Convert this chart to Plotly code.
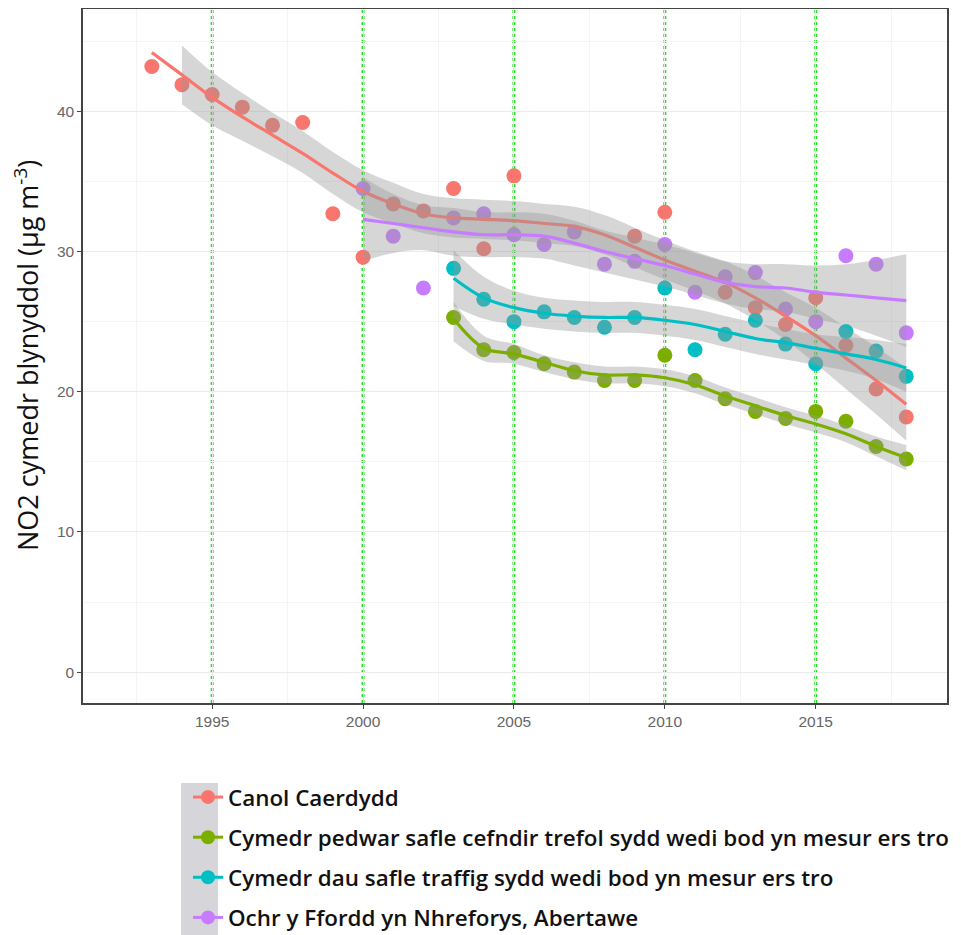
import plotly.graph_objects as go

# ---------------- data ----------------
series_names = [
    "Canol Caerdydd",
    "Cymedr pedwar safle cefndir trefol sydd wedi bod yn mesur ers tro",
    "Cymedr dau safle traffig sydd wedi bod yn mesur ers tro",
    "Ochr y Ffordd yn Nhreforys, Abertawe",
]
series_colors = ["#F8766D", "#7CAE00", "#00BFC4", "#C77CFF"]

# observed annual means
red_years = [1993, 1994, 1995, 1996, 1997, 1998, 1999, 2000, 2001, 2002, 2003, 2004, 2005,
             2009, 2010, 2012, 2013, 2014, 2015, 2016, 2017, 2018]
red_vals = [43.2, 41.9, 41.2, 40.3, 39.0, 39.2, 32.7, 29.6, 33.4, 32.9, 34.5, 30.2, 35.4,
            31.1, 32.8, 27.1, 26.0, 24.8, 26.7, 23.3, 20.2, 18.2]

green_years = list(range(2003, 2019))
green_vals = [25.3, 23.0, 22.8, 22.0, 21.4, 20.8, 20.8, 22.6, 20.8, 19.5, 18.6, 18.1, 18.6, 17.9, 16.1, 15.2]

teal_years = list(range(2003, 2019))
teal_vals = [28.8, 26.6, 25.0, 25.7, 25.3, 24.6, 25.3, 27.4, 23.0, 24.1, 25.1, 23.4, 22.0, 24.3, 22.9, 21.1]

purple_years = list(range(2000, 2019))
purple_vals = [34.5, 31.1, 27.4, 32.4, 32.7, 31.2, 30.5, 31.4, 29.1, 29.3, 30.5, 27.1, 28.2, 28.5,
               25.9, 25.0, 29.7, 29.1, 24.2]

# smoothed trend lines and their confidence bands
red_fit_years = list(range(1993, 2019))
red_fit = [44.2, 42.6, 41.0, 39.6, 38.3, 37.0, 35.6, 34.3, 33.4, 32.7, 32.4, 32.3, 32.2, 32.0,
           31.8, 31.2, 30.3, 29.4, 28.6, 27.8, 26.7, 25.4, 24.0, 22.4, 20.8, 19.1]
red_band_years = list(range(1994, 2019))
red_lo = [40.5, 39.0, 37.9, 36.8, 35.6, 34.1, 32.8, 32.0, 31.3, 31.0, 30.9, 30.8, 30.6,
          30.4, 29.8, 28.9, 28.0, 27.2, 26.3, 25.1, 23.7, 22.0, 20.2, 18.4, 16.5]
red_hi = [44.7, 42.8, 41.3, 39.9, 38.6, 37.1, 35.8, 34.9, 34.1, 33.8, 33.7, 33.6, 33.4,
          33.2, 32.6, 31.7, 30.8, 30.0, 29.3, 28.3, 27.1, 26.0, 24.6, 23.2, 21.7]

green_fit_years = list(range(2003, 2019))
green_fit = [25.2, 23.1, 22.7, 22.1, 21.5, 21.2, 21.2, 21.0, 20.5, 19.7, 19.0, 18.3, 17.7, 17.0, 16.1, 15.3]
green_lo = [23.6, 22.2, 22.0, 21.4, 20.9, 20.6, 20.6, 20.4, 19.9, 19.1, 18.4, 17.7, 17.1, 16.4, 15.4, 14.4]
green_hi = [26.4, 24.0, 23.4, 22.6, 22.1, 21.8, 21.8, 21.6, 21.1, 20.3, 19.6, 18.9, 18.3, 17.6, 16.8, 16.2]

teal_fit_years = list(range(2003, 2019))
teal_fit = [28.1, 26.7, 26.0, 25.6, 25.4, 25.3, 25.3, 25.1, 24.8, 24.3, 23.8, 23.5, 23.1, 22.7, 22.3, 21.7]
teal_lo = [26.1, 25.2, 24.8, 24.5, 24.3, 24.2, 24.2, 24.0, 23.7, 23.2, 22.7, 22.3, 21.9, 21.5, 20.9, 20.0]
teal_hi = [30.1, 28.2, 27.2, 26.7, 26.5, 26.4, 26.4, 26.2, 25.9, 25.4, 24.9, 24.5, 24.1, 23.9, 23.7, 23.4]

purple_fit_years = list(range(2000, 2019))
purple_fit = [32.3, 32.0, 31.7, 31.4, 31.2, 31.2, 31.1, 30.6, 30.0, 29.5, 29.0, 28.4, 27.8, 27.5,
              27.4, 27.1, 26.9, 26.7, 26.5]
purple_lo = [29.3, 29.9, 30.1, 29.7, 29.6, 29.6, 29.5, 29.0, 28.5, 28.0, 27.5, 26.9, 26.3, 25.9,
             25.7, 25.2, 24.7, 24.0, 23.2]
purple_hi = [35.3, 34.1, 33.3, 33.1, 32.8, 32.8, 32.7, 32.2, 31.5, 31.0, 30.5, 29.9, 29.3, 29.1,
             29.1, 29.0, 29.1, 29.4, 29.8]

x_tick_vals = [1995, 2000, 2005, 2010, 2015]
y_tick_vals = [0, 10, 20, 30, 40]
marker_years = [1995, 2000, 2005, 2010, 2015]  # green dotted reference lines

y_title = "NO2 cymedr blynyddol (µg m<sup>-3</sup>)"

# ---------------- figure ----------------
points = [(red_years, red_vals), (green_years, green_vals), (teal_years, teal_vals), (purple_years, purple_vals)]
fits = [
    (red_fit_years, red_fit, red_band_years, red_lo, red_hi),
    (green_fit_years, green_fit, green_fit_years, green_lo, green_hi),
    (teal_fit_years, teal_fit, teal_fit_years, teal_lo, teal_hi),
    (purple_fit_years, purple_fit, purple_fit_years, purple_lo, purple_hi),
]

fig = go.Figure()

for (xs, ys), col in zip(points, series_colors):
    fig.add_trace(go.Scatter(x=xs, y=ys, mode="markers",
                             marker=dict(color=col, size=15, line=dict(width=0)),
                             showlegend=False, hoverinfo="skip"))

band_fill = "rgba(153,153,153,0.4)"
for (fx, fy, bx, lo, hi), col in zip(fits, series_colors):
    fig.add_trace(go.Scatter(x=bx, y=lo, mode="lines", line=dict(width=0, shape="spline"),
                             showlegend=False, hoverinfo="skip"))
    fig.add_trace(go.Scatter(x=bx, y=hi, mode="lines", line=dict(width=0, shape="spline"),
                             fill="tonexty", fillcolor=band_fill,
                             showlegend=False, hoverinfo="skip"))
    fig.add_trace(go.Scatter(x=fx, y=fy, mode="lines", line=dict(color=col, width=3.2, shape="spline"),
                             showlegend=False, hoverinfo="skip"))

for i, (name, col) in enumerate(zip(series_names, series_colors)):
    fig.add_trace(go.Scatter(x=[None], y=[None], mode="lines+markers", name=name,
                             legendgroup=f"g{i}",
                             line=dict(color=col, width=3),
                             marker=dict(color=col, size=14)))

for yr in marker_years:
    fig.add_shape(type="line", xref="x", yref="paper", x0=yr, x1=yr, y0=0, y1=1,
                  line=dict(color="#2fd82f", width=3, dash="dot"), layer="between")

# grey legend key background
fig.add_shape(type="rect", xref="paper", yref="paper",
              x0=(181 - 83) / 864, x1=(218 - 83) / 864,
              y0=-(940 - 703) / 694, y1=-(783 - 703) / 694,
              fillcolor="#d6d6da", line=dict(width=0), layer="below")

fig.add_annotation(text=y_title, xref="paper", yref="paper",
                   x=(26 - 83) / 864, y=0.5, textangle=-90, showarrow=False,
                   xanchor="center", yanchor="middle",
                   font=dict(family="Open Sans", size=27, color="#111111"))

axis_common = dict(
    showline=True, mirror=True, linecolor="#444444", linewidth=1.5,
    ticks="outside", ticklen=4, tickcolor="#444444", tickwidth=1,
    gridcolor="#ebebeb", gridwidth=1.2, zeroline=False,
    tickfont=dict(family="Liberation Sans", size=15.5, color="#666666"),
)

fig.update_xaxes(range=[1990.72, 2019.35], tickvals=x_tick_vals,
                 minor=dict(dtick=2.5, tick0=1992.5, showgrid=True, gridcolor="#f4f4f4", gridwidth=0.8),
                 **axis_common)
fig.update_yaxes(range=[-2.2, 47.3], tickvals=y_tick_vals,
                 minor=dict(dtick=5, tick0=5, showgrid=True, gridcolor="#f4f4f4", gridwidth=0.8),
                 **axis_common)

# the page adds an 8 px body margin, so the figure is 8 px smaller and margins shifted
fig.update_layout(
    width=953, height=927,
    margin=dict(l=75, r=14, t=1, b=232, autoexpand=False),
    paper_bgcolor="white", plot_bgcolor="white",
    showlegend=True,
    legend=dict(x=(188 - 83) / 864, xanchor="left", y=-(776 - 703) / 694, yanchor="top",
                bgcolor="rgba(0,0,0,0)", tracegroupgap=8, itemwidth=30,
                font=dict(family="Open Sans", size=22.4, color="#111111", weight=600)),
)

fig.write_html("out.html")
